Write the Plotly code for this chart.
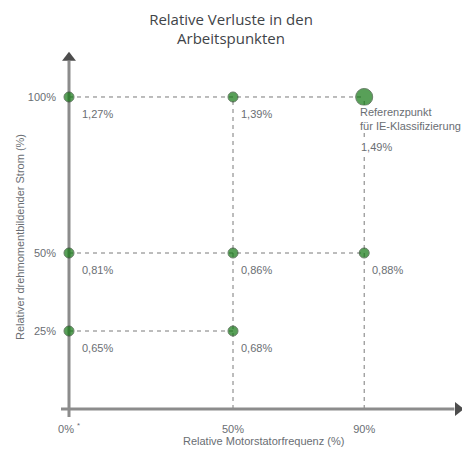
import plotly.graph_objects as go

# Operating points: stator frequency (%), torque-producing current (%), relative losses (%)
freq = [0, 50, 0, 50, 90, 0, 50, 90]
current = [25, 25, 50, 50, 50, 100, 100, 100]
losses = [0.65, 0.68, 0.81, 0.86, 0.88, 1.27, 1.39, 1.49]

x_ticks = [0, 50, 90]
x_ticktext = ["0% <sup>*</sup>", "50%", "90%"]
y_ticks = [25, 50, 100]
y_ticktext = ["25%", "50%", "100%"]

ref_freq, ref_current = 90, 100
ref_text = "Referenzpunkt<br>für IE-Klassifizierung"

title_text = "Relative Verluste in den<br>Arbeitspunkten"
x_title = "Relative Motorstatorfrequenz (%)"
y_title = "Relativer drehmomentbildender Strom (%)"

X_RANGE = [-2.44, 119.82]
Y_RANGE = [-2.56, 115.06]

FAMILY = "Liberation Sans, Arial, sans-serif"
TEXT_GRAY = "#6a6e73"
LABEL_FONT = dict(family=FAMILY, size=11, color=TEXT_GRAY)
AXIS_GRAY = "#8c8c8c"
DASH_GRAY = "#7a7a7a"
GREEN = "#127812"

fig = go.Figure()

# dashed guide lines: horizontal from the current axis to the last point of each row,
# vertical from each frequency column down to the frequency axis
for c in sorted(set(current)):
    xmax = max(f for f, cc in zip(freq, current) if cc == c)
    fig.add_shape(type="line", x0=0, x1=xmax, y0=c, y1=c, layer="below",
                  line=dict(color=DASH_GRAY, width=1, dash="4px,4px"))
for f in sorted(set(freq)):
    if f == 0:
        continue
    ymax = max(cc for ff, cc in zip(freq, current) if ff == f)
    fig.add_shape(type="line", x0=f, x1=f, y0=0, y1=ymax, layer="below",
                  line=dict(color=DASH_GRAY, width=1, dash="4px,4px"))

# axis lines
fig.add_shape(type="line", x0=X_RANGE[0], x1=117.5, y0=0, y1=0, layer="below",
              line=dict(color=AXIS_GRAY, width=3))
fig.add_shape(type="line", x0=0, x1=0, y0=Y_RANGE[0], y1=111.5, layer="below",
              line=dict(color=AXIS_GRAY, width=3))

# arrowheads
fig.add_trace(go.Scatter(x=[118.6], y=[0], mode="markers", cliponaxis=False,
                         marker=dict(symbol="triangle-right", size=12, color="#4d4d4d"),
                         hoverinfo="skip", showlegend=False))
fig.add_trace(go.Scatter(x=[0], y=[112.6], mode="markers", cliponaxis=False,
                         marker=dict(symbol="triangle-up", size=12, color="#4d4d4d"),
                         hoverinfo="skip", showlegend=False))

# operating points
sizes = [17 if (f, c) == (ref_freq, ref_current) else 10 for f, c in zip(freq, current)]
fig.add_trace(go.Scatter(x=freq, y=current, mode="markers", cliponaxis=False,
                         marker=dict(size=sizes, color=GREEN,
                                     line=dict(color="#2a4a2a", width=1)),
                         hoverinfo="skip", showlegend=False))

# reference point caption
fig.add_annotation(x=ref_freq, y=ref_current, text=ref_text, showarrow=False,
                   xanchor="left", yanchor="top", align="left", xshift=-5, yshift=-8,
                   bgcolor="white", font=LABEL_FONT, borderpad=0)

# loss value labels
for f, c, v in zip(freq, current, losses):
    is_ref = (f, c) == (ref_freq, ref_current)
    fig.add_annotation(x=f, y=c, text=f"{v:.2f}%".replace(".", ","), showarrow=False,
                       xanchor="left", yanchor="middle",
                       xshift=(11 if f == 0 else (-5 if is_ref else 6)),
                       yshift=(-50 if is_ref else -17),
                       bgcolor="white" if is_ref else None,
                       font=LABEL_FONT)

# axis titles
fig.add_annotation(xref="paper", yref="paper", x=(20 - 61) / 401, y=(417 - 237) / 367,
                   text=y_title, textangle=-90, showarrow=False,
                   xanchor="center", yanchor="middle",
                   font=dict(family=FAMILY, size=11, color=TEXT_GRAY))
fig.add_annotation(xref="paper", yref="paper", x=(263 - 61) / 401, y=(417 - 441) / 367,
                   text=x_title, showarrow=False,
                   xanchor="center", yanchor="middle",
                   font=dict(family=FAMILY, size=11, color=TEXT_GRAY))

fig.update_xaxes(range=X_RANGE, tickvals=x_ticks, ticktext=x_ticktext,
                 showgrid=False, zeroline=False, showline=False, ticks="",
                 tickfont=LABEL_FONT, ticklabelstandoff=4)
fig.update_yaxes(range=Y_RANGE, tickvals=y_ticks, ticktext=y_ticktext,
                 showgrid=False, zeroline=False, showline=False, ticks="",
                 tickfont=LABEL_FONT, ticklabelstandoff=4)

fig.update_layout(
    template="none",
    width=462, height=450,
    margin=dict(l=61, r=0, t=50, b=33),
    paper_bgcolor="white", plot_bgcolor="white",
    title=dict(text=title_text, x=0.5, xanchor="center", xref="container",
               y=0.945, yanchor="top",
               font=dict(family="Open Sans, DejaVu Sans, sans-serif", size=15,
                         color="#3f4448")),
)

fig.write_html("out.html")
